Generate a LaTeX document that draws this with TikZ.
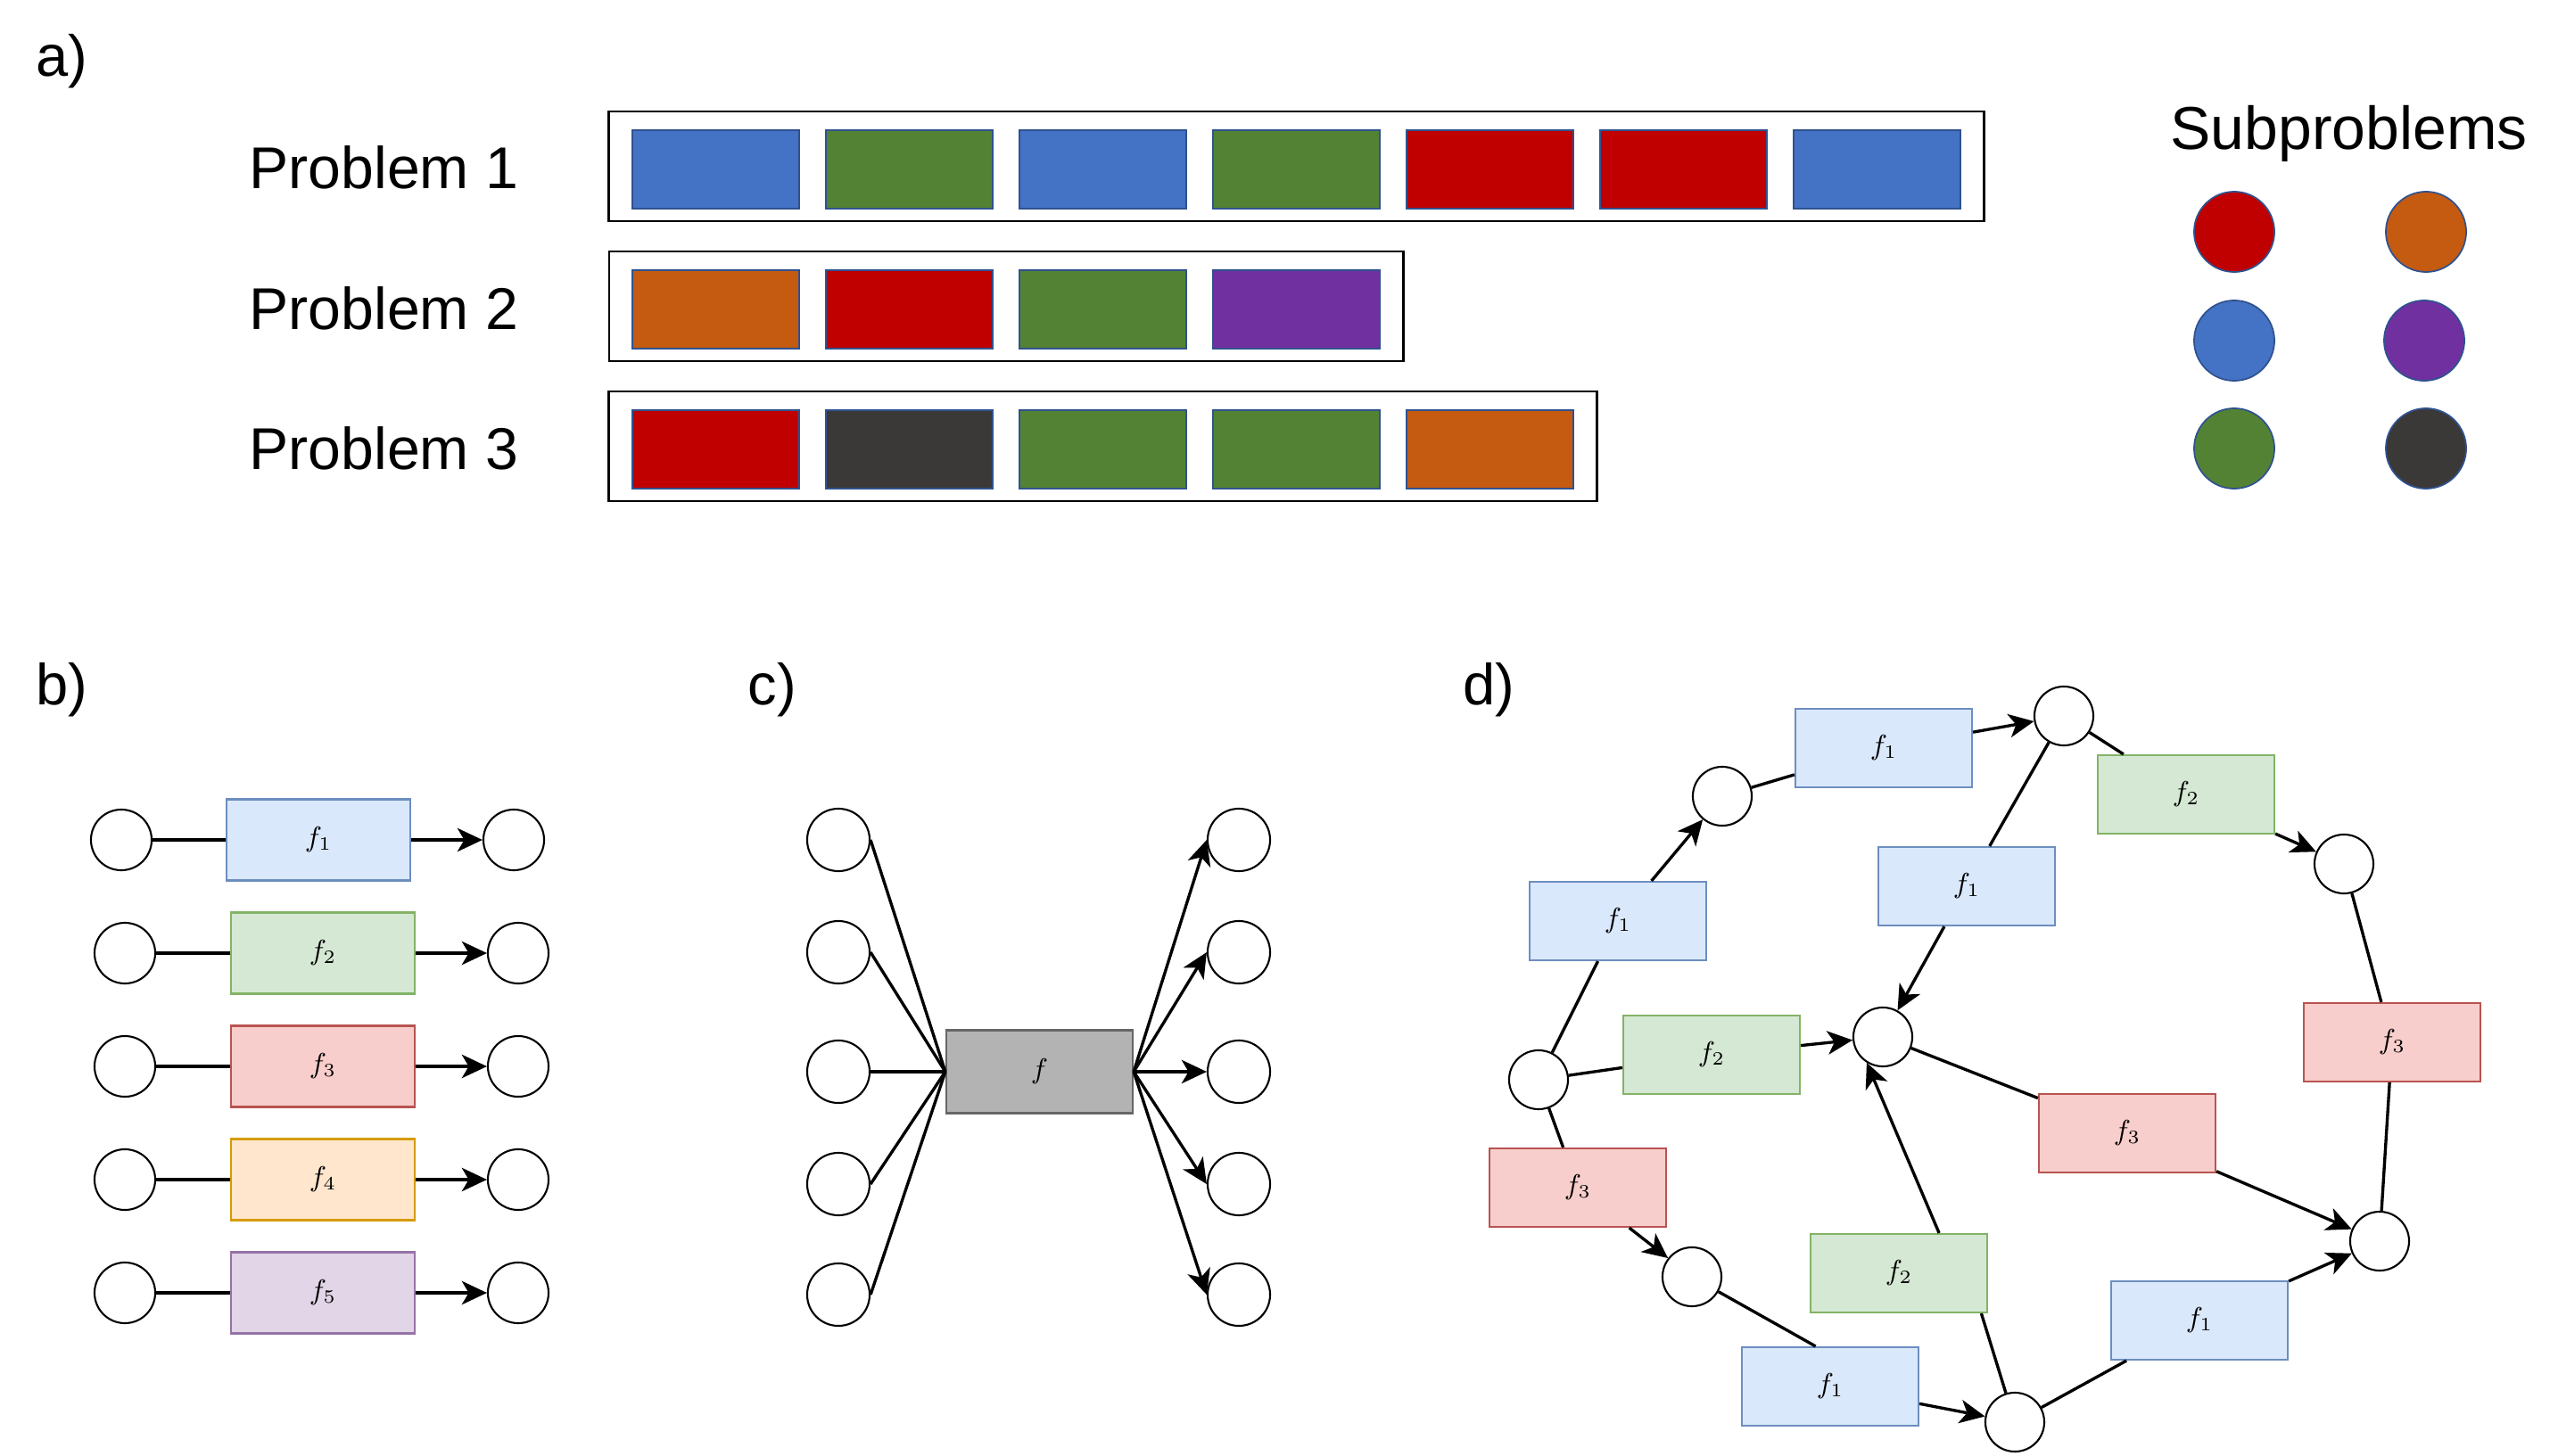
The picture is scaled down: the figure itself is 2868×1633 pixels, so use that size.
\documentclass[tikz,border=0pt]{standalone}
\usepackage{fontspec}
\setmainfont{Liberation Sans}
\usepackage{xcolor}
\usepackage{tikz}
\usetikzlibrary{arrows.meta}
\definecolor{SubBlue}{HTML}{4472C4}
\definecolor{SubGreen}{HTML}{548235}
\definecolor{SubRed}{HTML}{C00000}
\definecolor{SubOrange}{HTML}{C55A11}
\definecolor{SubPurple}{HTML}{7030A0}
\definecolor{SubDark}{HTML}{3B3838}
\definecolor{SubEdge}{HTML}{2F528F}
\definecolor{FBlueFill}{HTML}{DAE8FC}
\definecolor{FBlueLine}{HTML}{6C8EBF}
\definecolor{FGreenFill}{HTML}{D5E8D4}
\definecolor{FGreenLine}{HTML}{82B366}
\definecolor{FRedFill}{HTML}{F8CECC}
\definecolor{FRedLine}{HTML}{B85450}
\definecolor{FOrangeFill}{HTML}{FFE6CC}
\definecolor{FOrangeLine}{HTML}{D79B00}
\definecolor{FPurpleFill}{HTML}{E1D5E7}
\definecolor{FPurpleLine}{HTML}{9673A6}
\definecolor{FGrayFill}{HTML}{B3B3B3}
\definecolor{FGrayLine}{HTML}{666666}

\begin{document}
\begin{tikzpicture}[x=0.01cm,y=-0.01cm,
  panel/.style={anchor=base west,inner sep=0pt,font=\fontsize{18.5}{22}\selectfont},
  problabel/.style={anchor=base west,inner sep=0pt,font=\fontsize{18.8}{22}\selectfont},
  probbox/.style={draw,line width=0.7pt,inner sep=0pt,minimum height=12.3mm},
  subsq/.style={draw=SubEdge,line width=0.5pt,inner sep=0pt,minimum width=18.7mm,minimum height=8.8mm},
  subdot/.style={circle,draw=SubEdge,line width=0.5pt,inner sep=0pt,minimum size=9mm},
  vert/.style={circle,draw,line width=0.6pt,inner sep=0pt,minimum size=6.8mm},
  fbox/.style={draw,line width=0.6pt,inner sep=0pt,minimum width=20.6mm,minimum height=9.1mm,font=\fontsize{9}{10}\selectfont},
  dsize/.style={minimum width=19.8mm,minimum height=8.8mm},
  fblue/.style={fbox,fill=FBlueFill,draw=FBlueLine},
  fgreen/.style={fbox,fill=FGreenFill,draw=FGreenLine},
  fred/.style={fbox,fill=FRedFill,draw=FRedLine},
  forange/.style={fbox,fill=FOrangeFill,draw=FOrangeLine},
  fpurple/.style={fbox,fill=FPurpleFill,draw=FPurpleLine},
  fgray/.style={fbox,fill=FGrayFill,draw=FGrayLine},
  conn/.style={line width=0.95pt},
  arr/.style={conn,-{Stealth[length=8pt,width=7.5pt,inset=2.2pt]}}]
\useasboundingbox (0,0) rectangle (2868,1633);

% a)
\node[panel] (la) at (40,85) {a)};
\node[problabel] (t1) at (279,211) {Problem 1};
\node[problabel] (t2) at (279,369) {Problem 2};
\node[problabel] (t3) at (279,526) {Problem 3};
\node[probbox,minimum width=154.1mm] (p1) at (1453.5,186.5) {};
\node[probbox,minimum width=89mm] (p2) at (1128,343.5) {};
\node[probbox,minimum width=110.7mm] (p3) at (1236.5,500.5) {};
\node[subsq,fill=SubBlue] (s11) at (802.5,190) {};
\node[subsq,fill=SubGreen] (s12) at (1019.5,190) {};
\node[subsq,fill=SubBlue] (s13) at (1236.5,190) {};
\node[subsq,fill=SubGreen] (s14) at (1453.5,190) {};
\node[subsq,fill=SubRed] (s15) at (1670.5,190) {};
\node[subsq,fill=SubRed] (s16) at (1887.5,190) {};
\node[subsq,fill=SubBlue] (s17) at (2104.5,190) {};
\node[subsq,fill=SubOrange] (s21) at (802.5,347) {};
\node[subsq,fill=SubRed] (s22) at (1019.5,347) {};
\node[subsq,fill=SubGreen] (s23) at (1236.5,347) {};
\node[subsq,fill=SubPurple] (s24) at (1453.5,347) {};
\node[subsq,fill=SubRed] (s31) at (802.5,504) {};
\node[subsq,fill=SubDark] (s32) at (1019.5,504) {};
\node[subsq,fill=SubGreen] (s33) at (1236.5,504) {};
\node[subsq,fill=SubGreen] (s34) at (1453.5,504) {};
\node[subsq,fill=SubOrange] (s35) at (1670.5,504) {};
\node[problabel,font=\fontsize{19.3}{23}\selectfont] (tsub) at (2433,167) {Subproblems};
\node[subdot,fill=SubRed] (k1) at (2505,260) {};
\node[subdot,fill=SubOrange] (k2) at (2720,260) {};
\node[subdot,fill=SubBlue] (k3) at (2505,382) {};
\node[subdot,fill=SubPurple] (k4) at (2718,382) {};
\node[subdot,fill=SubGreen] (k5) at (2505,503) {};
\node[subdot,fill=SubDark] (k6) at (2720,503) {};

% b)
\node[panel] (lb) at (40,790) {b)};
\node[vert] (bi1) at (136,942) {};
\node[fblue] (bf1) at (357,942) {$f_1$};
\node[vert] (bo1) at (576,942) {};
\node[vert] (bi2) at (140,1069) {};
\node[fgreen] (bf2) at (362,1069) {$f_2$};
\node[vert] (bo2) at (581,1069) {};
\node[vert] (bi3) at (140,1196) {};
\node[fred] (bf3) at (362,1196) {$f_3$};
\node[vert] (bo3) at (581,1196) {};
\node[vert] (bi4) at (140,1323) {};
\node[forange] (bf4) at (362,1323) {$f_4$};
\node[vert] (bo4) at (581,1323) {};
\node[vert] (bi5) at (140,1450) {};
\node[fpurple] (bf5) at (362,1450) {$f_5$};
\node[vert] (bo5) at (581,1450) {};
\draw[conn] (bi1) -- (bf1);
\draw[arr] (bf1) -- (bo1);
\draw[conn] (bi2) -- (bf2);
\draw[arr] (bf2) -- (bo2);
\draw[conn] (bi3) -- (bf3);
\draw[arr] (bf3) -- (bo3);
\draw[conn] (bi4) -- (bf4);
\draw[arr] (bf4) -- (bo4);
\draw[conn] (bi5) -- (bf5);
\draw[arr] (bf5) -- (bo5);

% c)
\node[panel] (lc) at (838,790) {c)};
\node[fgray,minimum width=20.9mm,minimum height=9.3mm] (cf) at (1165.5,1202) {$f$};
\node[vert,minimum size=7mm] (ci1) at (940,942) {};
\node[vert,minimum size=7mm] (ci2) at (940,1068) {};
\node[vert,minimum size=7mm] (ci3) at (940,1202) {};
\node[vert,minimum size=7mm] (ci4) at (940,1328) {};
\node[vert,minimum size=7mm] (ci5) at (940,1452) {};
\node[vert,minimum size=7mm] (co1) at (1389,942) {};
\node[vert,minimum size=7mm] (co2) at (1389,1068) {};
\node[vert,minimum size=7mm] (co3) at (1389,1202) {};
\node[vert,minimum size=7mm] (co4) at (1389,1328) {};
\node[vert,minimum size=7mm] (co5) at (1389,1452) {};
\draw[conn] (ci1.east) -- (cf.west);
\draw[conn] (ci2.east) -- (cf.west);
\draw[conn] (ci3.east) -- (cf.west);
\draw[conn] (ci4.east) -- (cf.west);
\draw[conn] (ci5.east) -- (cf.west);
\draw[arr] (cf.east) -- (co1.west);
\draw[arr] (cf.east) -- (co2.west);
\draw[arr] (cf.east) -- (co3.west);
\draw[arr] (cf.east) -- (co4.west);
\draw[arr] (cf.east) -- (co5.west);

% d)
\node[panel] (ld) at (1640,790) {d)};
\node[vert,minimum size=6.6mm] (da) at (1725,1211) {};
\node[vert,minimum size=6.6mm] (db) at (1931,893) {};
\node[vert,minimum size=6.6mm] (dc) at (2314,803) {};
\node[vert,minimum size=6.6mm] (dd) at (2628,969) {};
\node[vert,minimum size=6.6mm] (de) at (2111,1163) {};
\node[vert,minimum size=6.6mm] (df) at (2668,1392) {};
\node[vert,minimum size=6.6mm] (dg) at (1897,1432) {};
\node[vert,minimum size=6.6mm] (dh) at (2259,1595) {};
\node[fblue,dsize] (g1) at (1814,1033) {$f_1$};
\node[fblue,dsize] (g2) at (2112,839) {$f_1$};
\node[fgreen,dsize] (g3) at (2451,891) {$f_2$};
\node[fblue,dsize] (g4) at (2205,994) {$f_1$};
\node[fgreen,dsize] (g5) at (1919,1183) {$f_2$};
\node[fred,dsize] (g6) at (2682,1169) {$f_3$};
\node[fred,dsize] (g7) at (2385,1271) {$f_3$};
\node[fred,dsize] (g8) at (1769,1332) {$f_3$};
\node[fgreen,dsize] (g9) at (2129,1428) {$f_2$};
\node[fblue,dsize] (g10) at (2052,1555) {$f_1$};
\node[fblue,dsize] (g11) at (2466,1481) {$f_1$};
\draw[conn] (da) -- (g1);
\draw[arr] (g1) -- (db);
\draw[conn] (db) -- (g2);
\draw[arr] (g2) -- (dc);
\draw[conn] (dc) -- (g3);
\draw[arr] (g3) -- (dd);
\draw[conn] (dc) -- (g4);
\draw[arr] (g4) -- (de);
\draw[conn] (da) -- (g5);
\draw[arr] (g5) -- (de);
\draw[conn] (dd) -- (g6);
\draw[conn] (g6) -- (df);
\draw[conn] (de) -- (g7);
\draw[arr] (g7) -- (df);
\draw[conn] (da) -- (g8);
\draw[arr] (g8) -- (dg);
\draw[conn] (dh) -- (g9.-26);
\draw[arr] (g9.45) -- (de.-122);
\draw[conn] (dg) -- (g10.110);
\draw[arr] (g10) -- (dh);
\draw[conn] (dh) -- (g11);
\draw[arr] (g11) -- (df);
\end{tikzpicture}
\end{document}
